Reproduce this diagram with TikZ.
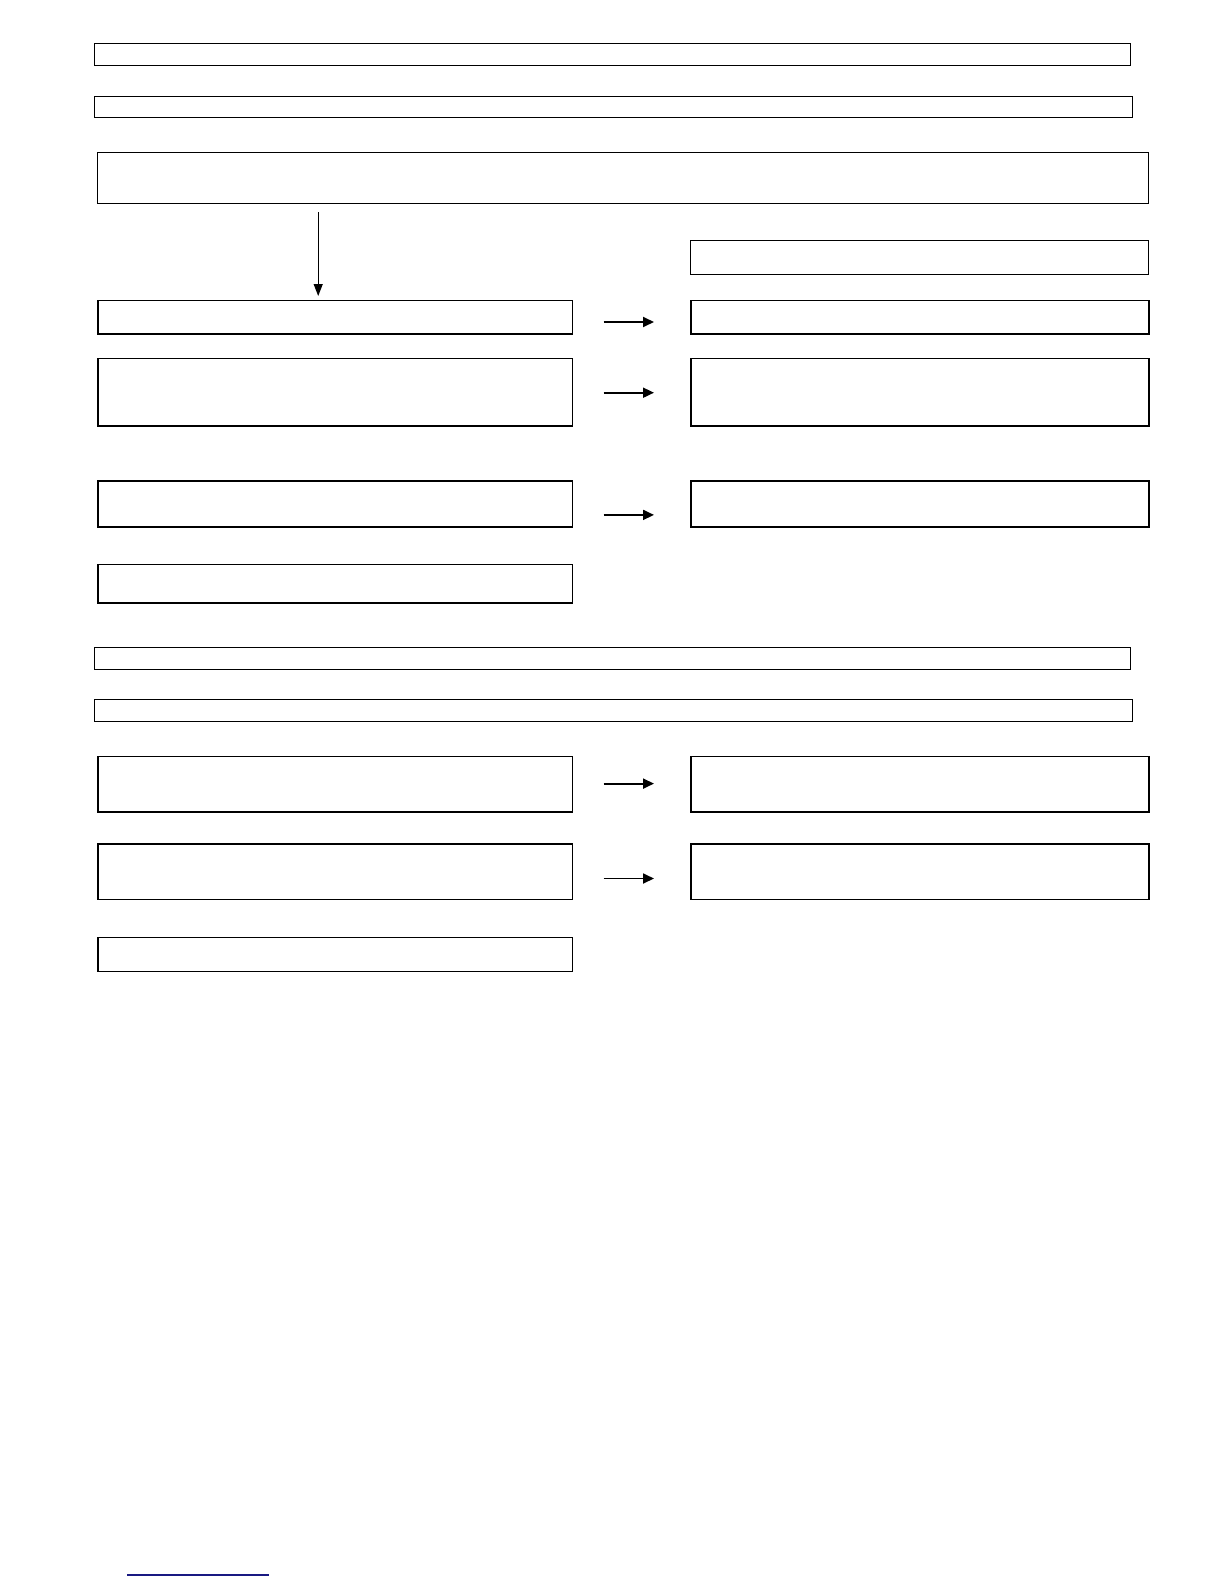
\documentclass[tikz,border=0pt]{standalone}
\usetikzlibrary{arrows.meta,calc}
\definecolor{footblue}{RGB}{25,25,130}
\begin{document}
\begin{tikzpicture}[x=1bp,y=-1bp,
  thinbox/.style={draw=black,line width=1bp,inner sep=0pt,anchor=north west},
  thickbox/.style={draw=black,line width=1.6bp,inner sep=0pt,anchor=north west},
  arr/.style={line width=1.8bp,-{Triangle[length=11bp,width=10bp]}},
  darr/.style={line width=1.2bp,-{Triangle[length=12bp,width=9bp]}}]
\useasboundingbox[fill=white] (0,0) rectangle (1224,1584);
% section 1 headers
\node[thinbox,minimum width=1036bp,minimum height=21.7bp] (h1) at (94.3,43.3) {};
\node[thinbox,minimum width=1038bp,minimum height=21.6bp] (h2) at (94.3,95.7) {};
\node[thinbox,minimum width=1050.7bp,minimum height=51bp] (b3) at (97.3,152.3) {};
\node[thinbox,minimum width=458bp,minimum height=33.3bp] (r4) at (690,240.4) {};
% rows
\node[thickbox,minimum width=474.4bp,minimum height=33.5bp] (l5) at (97.3,299.5) {};
\node[thickbox,minimum width=458bp,minimum height=33.5bp] (r5) at (690,299.5) {};
\node[thickbox,minimum width=474.4bp,minimum height=67.7bp] (l6) at (97.3,357.5) {};
\node[thickbox,minimum width=458bp,minimum height=67.7bp] (r6) at (690,357.5) {};
\node[thickbox,minimum width=474.4bp,minimum height=46bp] (l7) at (97.3,480) {};
\node[thickbox,minimum width=458bp,minimum height=46bp] (r7) at (690,480) {};
\node[thickbox,minimum width=474.4bp,minimum height=38.5bp] (l8) at (97.3,563.5) {};
% section 2 headers
\node[thinbox,minimum width=1036bp,minimum height=22.5bp] (h9) at (94.3,646.5) {};
\node[thinbox,minimum width=1038bp,minimum height=22bp] (h10) at (94.3,699) {};
\node[thickbox,minimum width=474.4bp,minimum height=55.3bp] (l11) at (97.3,755.7) {};
\node[thickbox,minimum width=458bp,minimum height=55.3bp] (r11) at (690,755.7) {};
\node[thickbox,minimum width=474.4bp,minimum height=55.4bp] (l12) at (97.3,843.3) {};
\node[thickbox,minimum width=458bp,minimum height=55.4bp] (r12) at (690,843.3) {};
\node[thickbox,minimum width=474.4bp,minimum height=34.3bp] (l13) at (97.3,936.5) {};
% arrows
\draw[darr] ($(b3.south west)+(220.9,7.7)$) -- ($(l5.north west)+(220.9,-3.5)$);
\draw[arr] ($(l5.east)+(30.3,4.95)$) -- ($(r5.west)+(-36,4.95)$);
\draw[arr] ($(l6.east)+(30.3,0.55)$) -- ($(r6.west)+(-36,0.55)$);
\draw[arr] ($(l7.east)+(30.3,11.1)$) -- ($(r7.west)+(-36,11.1)$);
\draw[arr] ($(l11.east)+(30.3,-0.55)$) -- ($(r11.west)+(-36,-0.55)$);
\draw[arr] ($(l12.east)+(30.3,6.7)$) -- ($(r12.west)+(-36,6.7)$);
% footer line
\coordinate (f1) at (127,1575);
\coordinate (f2) at (269,1575);
\draw[line width=1.2bp,footblue] (f1) -- (f2);
\end{tikzpicture}
\end{document}
